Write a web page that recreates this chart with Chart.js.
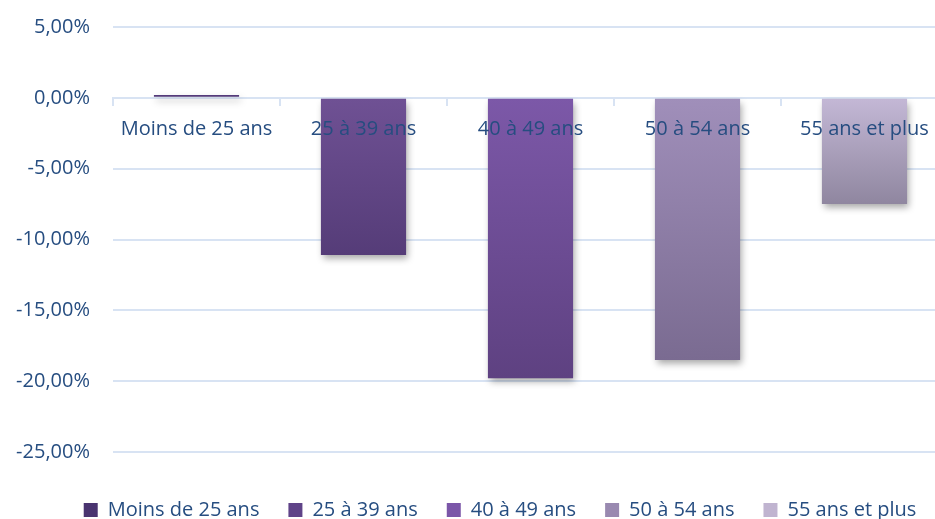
<!DOCTYPE html>
<html>
    <head>
        <meta charset="utf-8">
        <title>Variation par tranche d'âge</title>
        <script src="https://cdn.jsdelivr.net/npm/chart.js"></script>
        <style>
            html, body { margin: 0; padding: 0; background: #ffffff; overflow: hidden; }
            #wrap { width: 948px; height: 519px; }
        </style>
    </head>
    <body>
        <div id="wrap"><canvas id="ageChart" width="948" height="519"></canvas></div>
        <script>
            // Variation (%) par tranche d'âge
            const ageGroups = ['Moins de 25 ans', '25 à 39 ans', '40 à 49 ans', '50 à 54 ans', '55 ans et plus'];
            const variation = [0.2, -11.1, -19.8, -18.5, -7.5];
            const yTicks = [-25, -20, -15, -10, -5, 0, 5];

            // couleurs : légende, haut et bas du dégradé de chaque barre
            const legendColors = ['#4a3470', '#5f4388', '#7b56a8', '#9989b0', '#c0b4d0'];
            const topColors = ['#553c7c', '#6f5194', '#7c58a8', '#a08fba', '#c4b8d6'];
            const bottomColors = ['#4e3673', '#553c78', '#5e4181', '#7a6b91', '#8f869f'];

            const textColor = '#264d80';
            const gridColor = '#d8e3f3';
            const font = { family: 'Open Sans', size: 20 };

            function barFill(c) {
                const chart = c.chart;
                const i = c.dataIndex;
                if (!chart.chartArea || !chart.scales.y) return legendColors[i];
                const y0 = chart.scales.y.getPixelForValue(0);
                const y1 = chart.scales.y.getPixelForValue(variation[i]);
                const g = chart.ctx.createLinearGradient(0, Math.min(y0, y1), 0, Math.max(y0, y1) + 0.5);
                g.addColorStop(0, topColors[i]);
                g.addColorStop(1, bottomColors[i]);
                return g;
            }

            // ombre portée sous les barres
            const barShadow = {
                id: 'barShadow',
                beforeDatasetsDraw(chart) {
                    const ctx = chart.ctx;
                    ctx.save();
                    ctx.shadowColor = 'rgba(0, 0, 0, 0.35)';
                    ctx.shadowBlur = 7;
                    ctx.shadowOffsetX = 2;
                    ctx.shadowOffsetY = 4;
                },
                afterDatasetsDraw(chart) {
                    chart.ctx.restore();
                }
            };

            // légende un peu plus bas et décalée vers la droite
            const legendPlace = {
                id: 'legendPlace',
                beforeInit(chart) {
                    const fit = chart.legend.fit;
                    chart.legend.fit = function () {
                        fit.bind(chart.legend)();
                        this.height += 8;
                    };
                },
                afterLayout(chart) {
                    const lg = chart.legend;
                    lg.top += 19;
                    lg.bottom += 19;
                    lg.left += 26;
                    lg.right += 26;
                }
            };

            new Chart(document.getElementById('ageChart'), {
                type: 'bar',
                data: {
                    labels: ageGroups,
                    datasets: [{
                        data: variation,
                        backgroundColor: barFill,
                        borderWidth: 0,
                        categoryPercentage: 1,
                        barPercentage: 0.51
                    }]
                },
                plugins: [barShadow, legendPlace],
                options: {
                    responsive: false,
                    animation: false,
                    layout: { padding: { left: 0, top: 27, right: 0, bottom: 0 } },
                    plugins: {
                        tooltip: { enabled: false },
                        legend: {
                            position: 'bottom',
                            labels: {
                                color: textColor,
                                font: font,
                                boxWidth: 14,
                                boxHeight: 14,
                                padding: 29,
                                generateLabels: () => ageGroups.map((name, i) => ({
                                    text: name,
                                    fillStyle: legendColors[i],
                                    strokeStyle: legendColors[i],
                                    lineWidth: 0,
                                    fontColor: textColor,
                                    index: i
                                }))
                            }
                        }
                    },
                    scales: {
                        x: {
                            position: { y: 0 },
                            offset: true,
                            border: { display: true, color: gridColor, width: 2 },
                            grid: { drawOnChartArea: false, drawTicks: true, tickLength: 7, color: gridColor, lineWidth: 2, offset: true },
                            ticks: { z: 1, color: textColor, font: font, padding: 12, maxRotation: 0, autoSkip: false }
                        },
                        y: {
                            min: -25,
                            max: 5,
                            afterFit: (scale) => { scale.width = 113; },
                            afterBuildTicks: (scale) => { scale.ticks = yTicks.map(v => ({ value: v })); },
                            border: { display: false },
                            // marques invisibles : elles ne servent qu'à écarter les libellés de la zone
                            grid: { color: gridColor, lineWidth: 2, drawTicks: true, tickLength: 21, tickColor: 'rgba(0, 0, 0, 0)' },
                            ticks: {
                                color: textColor,
                                font: font,
                                padding: 2,
                                callback: (v) => v.toFixed(2).replace('.', ',') + '%'
                            }
                        }
                    }
                }
            });
        </script>
    </body>
</html>
